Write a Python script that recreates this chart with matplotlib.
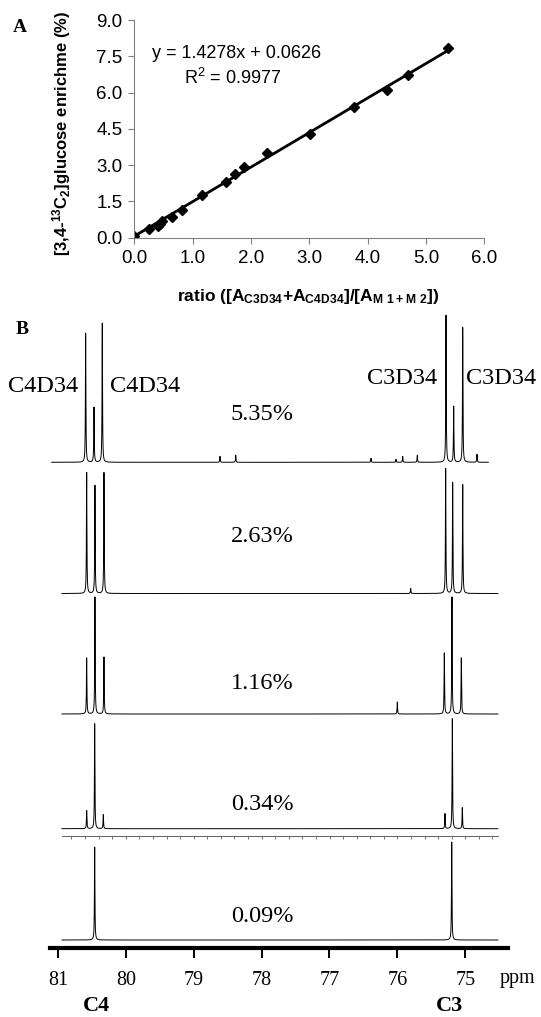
import numpy as np
import matplotlib
matplotlib.use("Agg")
import matplotlib.pyplot as plt
from matplotlib.ticker import MultipleLocator

plt.rcParams['mathtext.fontset'] = 'custom'
plt.rcParams['mathtext.rm'] = 'Liberation Sans'
plt.rcParams['mathtext.bf'] = 'Liberation Sans:bold'

# panel A data
ratio = [0.00, 0.25, 0.40, 0.44, 0.47, 0.65, 0.81, 1.16, 1.57, 1.73, 1.88, 2.27, 3.02, 3.76, 4.34, 4.70, 5.38]
enrich = [0.08, 0.37, 0.48, 0.58, 0.70, 0.87, 1.14, 1.77, 2.32, 2.63, 2.94, 3.49, 4.27, 5.39, 6.11, 6.73, 7.85]
slope = 1.4278
intercept = 0.0626
xticks_a = [0, 1, 2, 3, 4, 5, 6]
yticks_a = [0, 1.5, 3, 4.5, 6, 7.5, 9]

# panel B data: peaks (ppm, height)
pct_labels = ["5.35%", "2.63%", "1.16%", "0.34%", "0.09%"]
peak_ppm = [
    [80.591, 80.468, 80.346, 75.284, 75.171, 75.038, 74.828, 78.613, 78.381, 76.389, 76.021, 75.922, 75.707],
    [80.576, 80.454, 80.321, 75.289, 75.186, 75.038, 75.804],
    [80.576, 80.454, 80.321, 75.309, 75.196, 75.059, 76.001],
    [80.576, 80.458, 80.331, 75.299, 75.191, 75.044],
    [80.458, 75.200],
]
peak_h = [
    [129, 55, 139, 147, 56, 135, 8, 6, 7, 4, 3, 6, 7],
    [121, 108, 121, 125, 111, 109, 5],
    [56, 117, 57, 61, 117, 56, 12],
    [18, 105, 14, 15, 110, 21],
    [93, 98],
]
spec_start = [81.09, 80.94, 80.94, 80.94, 80.94]
spec_end = [74.66, 74.52, 74.52, 74.52, 74.52]
ppm_ticks = [81, 80, 79, 78, 77, 76, 75]

W, H = 541, 1017
fig = plt.figure(figsize=(W / 100, H / 100), dpi=100)


def fx(px):
    return px / W


def fy(py):
    return 1 - py / H


# ---------- panel A ----------
axA = fig.add_axes([fx(134.3), fy(237.7), fx(484.3 - 134.3), (237.7 - 20) / H])
axA.plot(ratio, enrich, 'D', color='black', ms=5)
xl = np.array([min(ratio), max(ratio)])
axA.plot(xl, slope * xl + intercept, color='black', lw=2)
axA.set_xlim(0, 6)
axA.set_ylim(0, 9)
axA.set_xticks(xticks_a)
axA.set_yticks(yticks_a)
axA.set_xticklabels(["%.1f" % v for v in xticks_a], family='Liberation Sans', fontsize=13.5)
axA.set_yticklabels(["%.1f" % v for v in yticks_a], family='Liberation Sans', fontsize=13.5)
for s in ['top', 'right']:
    axA.spines[s].set_visible(False)
for s in ['left', 'bottom']:
    axA.spines[s].set_color('#808080')
axA.tick_params(direction='out', length=4.5, color='#808080', pad=4)

fig.text(fx(62), fy(133.5), r"[3,4-$\mathbf{^{13}}$C$\mathbf{_2}$]glucose enrichme (%)", rotation=90,
         ha='center', va='center', family='Liberation Sans', weight='bold', fontsize=12)
fig.text(fx(308.5), fy(296), r"ratio ([A$\mathbf{_{C3D34}}$+A$\mathbf{_{C4D34}}$]/[A$\mathbf{_{M\ 1+M\ 2}}$])",
         ha='center', va='center', family='Liberation Sans', weight='bold', fontsize=12.5)
fig.text(fx(237), fy(53.3), "y = 1.4278x + 0.0626", ha='center', va='center',
         family='Liberation Sans', fontsize=13)
fig.text(fx(232.5), fy(78), r"R$^2$ = 0.9977", ha='center', va='center',
         family='Liberation Sans', fontsize=13)
fig.text(fx(20), fy(27), "A", ha='center', va='center', family='Liberation Serif',
         weight='bold', fontsize=14)

# ---------- panel B ----------
x_left, x_right = 81.116, 74.371
axB = fig.add_axes([fx(50), fy(948.3), fx(508 - 50), (948.3 - 300) / H])
axB.set_xlim(x_left, x_right)
axB.set_ylim(0, 648.3)
baselines = [486, 354.8, 234.3, 119.6, 8.3]
hw = 0.004
for i in range(5):
    x = np.linspace(spec_start[i], spec_end[i], 30000)
    y = np.zeros_like(x)
    for p, h in zip(peak_ppm[i], peak_h[i]):
        y += h * hw ** 2 / ((x - p) ** 2 + hw ** 2)
    axB.plot(x, y + baselines[i], color='black', lw=0.7)

for s in ['top', 'right', 'left']:
    axB.spines[s].set_visible(False)
axB.spines['bottom'].set_linewidth(3)
axB.set_yticks([])
axB.set_xticks(ppm_ticks)
axB.set_xticklabels([str(t) for t in ppm_ticks], family='Liberation Serif', fontsize=14.5)
axB.tick_params(axis='x', direction='out', length=7, width=1.4, pad=9)
axB.patch.set_alpha(0)

# small ppm scale under the 0.34% spectrum
axS = fig.add_axes([fx(61.7), fy(835.7), fx(497.7 - 61.7), 0.0005])
axS.set_xlim(80.944, 74.523)
axS.xaxis.set_major_locator(MultipleLocator(0.2))
axS.set_xticklabels([])
axS.set_yticks([])
axS.tick_params(axis='x', direction='out', length=2, width=0.6, color='#606060')
for s in ['top', 'right', 'left']:
    axS.spines[s].set_visible(False)
axS.spines['bottom'].set_color('#606060')
axS.spines['bottom'].set_linewidth(0.7)
axS.patch.set_alpha(0)

fig.text(fx(500), fy(978), "ppm", ha='left', va='center', family='Liberation Serif', fontsize=14.5)
fig.text(fx(96.3), fy(1006), "C4", ha='center', va='center', family='Liberation Serif',
         weight='bold', fontsize=16)
fig.text(fx(449.7), fy(1006), "C3", ha='center', va='center', family='Liberation Serif',
         weight='bold', fontsize=16)
fig.text(fx(21.7), fy(330), "B", ha='center', va='center', family='Liberation Serif',
         weight='bold', fontsize=14)

fig.text(fx(43.3), fy(386.7), "C4D34", ha='center', va='center', family='Liberation Serif', fontsize=17.5)
fig.text(fx(145), fy(386.7), "C4D34", ha='center', va='center', family='Liberation Serif', fontsize=17.5)
fig.text(fx(401.7), fy(378.3), "C3D34", ha='center', va='center', family='Liberation Serif', fontsize=17.5)
fig.text(fx(500.8), fy(378.3), "C3D34", ha='center', va='center', family='Liberation Serif', fontsize=17.5)

pct_y = [415, 536.7, 683.3, 805, 916.7]
for lab, py in zip(pct_labels, pct_y):
    fig.text(fx(262), fy(py), lab, ha='center', va='center', family='Liberation Serif', fontsize=17.5)

fig.savefig("out.png", dpi=100)
